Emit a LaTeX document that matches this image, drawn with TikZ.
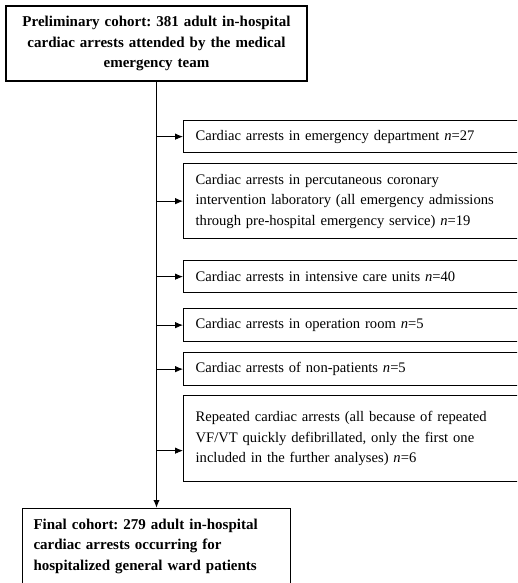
\documentclass[tikz,border=0pt]{standalone}
\usepackage{fontspec}
\setmainfont{Liberation Serif}
\frenchspacing
\usetikzlibrary{arrows.meta}
\tikzset{
  cohort/.style={draw, line width=1.3pt, align=#1, inner xsep=11pt,
                 font=\bfseries\fontsize{15}{20.5}\selectfont},
  excl/.style={draw, line width=1.3pt, anchor=north west, align=left,
               text width=322pt, inner xsep=12pt, minimum height=#1,
               font=\fontsize{14.6}{20.5}\selectfont},
  flow/.style={line width=1.6pt, -{Latex[length=8pt,width=6.5pt]}},
  feed/.style={line width=0.8pt, -{Latex[length=8pt,width=6.5pt]}}
}

\begin{document}
\begin{tikzpicture}[x=1pt,y=-1pt]
\useasboundingbox (0,0) rectangle (517,583);
\clip (0,0) rectangle (517,583);

\node[cohort=center, text width=279pt, minimum height=75pt] (prelim) at (156.5,43.5)
  {Preliminary cohort: 381 adult in-hospital\\
   cardiac arrests attended by the medical\\
   emergency team};

\node[excl=32pt] (ed) at (183,120)
  {Cardiac arrests in emergency department \textit{n}=27};
\node[excl=75pt] (pci) at (183,163)
  {Cardiac arrests in percutaneous coronary\\
   intervention laboratory (all emergency admissions\\
   through pre-hospital emergency service) \textit{n}=19};
\node[excl=32pt] (icu) at (183,260)
  {Cardiac arrests in intensive care units \textit{n}=40};
\node[excl=33pt] (or) at (183,308)
  {Cardiac arrests in operation room \textit{n}=5};
\node[excl=33pt] (nonpat) at (183,352)
  {Cardiac arrests of non-patients \textit{n}=5};
\node[excl=86pt] (repeat) at (183,395)
  {Repeated cardiac arrests (all because of repeated\\
   VF/VT quickly defibrillated, only the first one\\
   included in the further analyses) \textit{n}=6};
\coordinate (repeatin) at ([yshift=-12pt]repeat.west);

\node[cohort=left, anchor=north, text width=246pt, inner ysep=10pt] (final) at (156.5,508)
  {Final cohort: 279 adult in-hospital\\
   cardiac arrests occurring for\\
   hospitalized general ward patients};

% main flow
\draw[flow] (prelim.south) -- (final.north);

% exclusions
\foreach \excl in {ed,pci,icu,or,nonpat}
  \draw[feed] (prelim.south |- \excl.west) -- (\excl.west);
\draw[feed] (prelim.south |- repeatin) -- (repeatin);
\end{tikzpicture}
\end{document}
